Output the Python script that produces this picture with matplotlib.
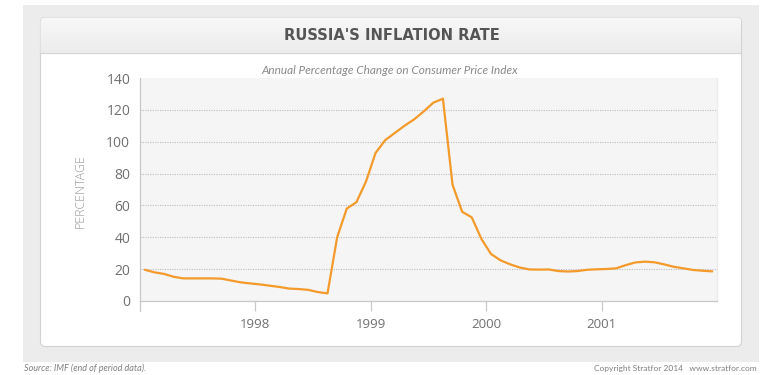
import matplotlib
matplotlib.use('Agg')
import matplotlib.pyplot as plt
from matplotlib.patches import FancyBboxPatch, Rectangle
import numpy as np

# ---- data (annual % change in CPI, monthly, Jan 1997 - Dec 2001) ----
years = [1997, 1998, 1999, 2000, 2001]
inflation = [
    19.6, 18.0, 17.0, 15.2, 14.2, 14.2, 14.2, 14.2, 14.0, 12.8, 11.7, 11.0,   # 1997
    10.4, 9.6, 8.8, 7.8, 7.5, 7.0, 5.6, 4.8, 40.0, 58.0, 62.0, 75.0,          # 1998
    93.0, 101.0, 105.5, 110.0, 114.0, 119.0, 124.5, 127.0, 73.0, 56.0, 52.5, 39.0,  # 1999
    29.5, 25.5, 23.0, 21.0, 19.8, 19.7, 19.8, 18.8, 18.5, 18.8, 19.6, 19.9,  # 2000
    20.1, 20.5, 22.5, 24.2, 24.7, 24.3, 23.0, 21.5, 20.5, 19.5, 19.0, 18.6,  # 2001
]
x_ticks = [1998, 1999, 2000, 2001]
x_tick_labels = ['1998', '1999', '2000', '2001']
y_ticks = [0, 20, 40, 60, 80, 100, 120, 140]

title = "RUSSIA'S INFLATION RATE"
subtitle = "Annual Percentage Change on Consumer Price Index"
y_label = "PERCENTAGE"
source = "Source: IMF (end of period data)."
copyright_txt = "Copyright Stratfor 2014   www.stratfor.com"

# month midpoints as fractional years
dates = [y + (m + 0.5) / 12 for y in years for m in range(12)]

W, H = 784, 375
fig = plt.figure(figsize=(W / 100, H / 100), dpi=100)
fig.patch.set_facecolor('white')

# ---- background decorations in pixel coordinates ----
bg = fig.add_axes([0, 0, 1, 1], zorder=0)
bg.set_xlim(0, W)
bg.set_ylim(H, 0)
bg.axis('off')

bg.add_patch(Rectangle((23, 5), 736, 357, facecolor='#ececec', edgecolor='none'))
card = FancyBboxPatch((40.5, 17.5), 701, 329, boxstyle='round,pad=0,rounding_size=5',
                      facecolor='white', edgecolor='#d2d2d2', linewidth=0.8)
bg.add_patch(card)
grad = np.linspace(0, 1, 50).reshape(-1, 1)
im = bg.imshow(grad, extent=(40.5, 741.5, 53, 17.5), cmap=matplotlib.colors.LinearSegmentedColormap.from_list(
    'g', ['#f8f8f8', '#ececec']), aspect='auto', zorder=1)
im.set_clip_path(card)
bg.plot([40.5, 741.5], [53, 53], color='#d6d6d6', lw=0.9, zorder=2)
# left axis line extension below the baseline
bg.plot([140, 140], [301, 311], color='#c8c8c8', lw=0.9, zorder=2)

bg.text(392, 36, title, ha='center', va='center', fontsize=11.8, fontweight='bold',
        family=['DejaVu Sans'], fontstretch='condensed', color='#555555')
bg.text(390, 70, subtitle, ha='center', va='center', fontsize=8.5, style='italic',
        family=['Lato', 'DejaVu Sans'], color='#8a8a8a')
bg.text(80, 191, y_label, ha='center', va='center', rotation=90, fontsize=9,
        family=['Open Sans', 'DejaVu Sans'], fontweight='light', color='#9a9a9a')
bg.text(24, 368, source, ha='left', va='center', fontsize=6.5, style='italic',
        family=['Lato', 'DejaVu Sans'], color='#808080')
bg.text(757, 368, copyright_txt, ha='right', va='center', fontsize=6.0,
        family=['Lato', 'DejaVu Sans'], color='#808080')

# ---- main chart ----
ax = fig.add_axes([140 / W, 74 / H, 577 / W, 223 / H], zorder=2)
ax.set_facecolor('#f5f5f5')
ax.set_xlim(1997, 2002)
ax.set_ylim(0, 140)

for yv in y_ticks[1:-1]:
    ax.axhline(yv, color='#bdbdbd', lw=0.8, linestyle=(0, (1, 1.2)), zorder=1)

ax.plot(dates, inflation, color='#f39a2b', lw=1.6, solid_joinstyle='round',
        solid_capstyle='round', zorder=3)

ax.spines['top'].set_visible(False)
ax.spines['right'].set_color('#ebebeb')
ax.spines['left'].set_color('#c8c8c8')
ax.spines['bottom'].set_color('#c8c8c8')
for s in ['left', 'bottom', 'right']:
    ax.spines[s].set_linewidth(0.9)

ax.set_yticks(y_ticks)
ax.set_yticklabels([str(v) for v in y_ticks])
ax.set_xticks(x_ticks)
ax.set_xticklabels(x_tick_labels)
ax.tick_params(axis='y', length=0, pad=7, labelsize=10, labelcolor='#707070')
ax.tick_params(axis='x', length=7, width=0.9, color='#c8c8c8', pad=5,
               labelsize=9.5, labelcolor='#707070')
for lab in ax.get_xticklabels() + ax.get_yticklabels():
    lab.set_family(['Open Sans', 'DejaVu Sans'])

fig.savefig('out.png', dpi=100, facecolor='white')
